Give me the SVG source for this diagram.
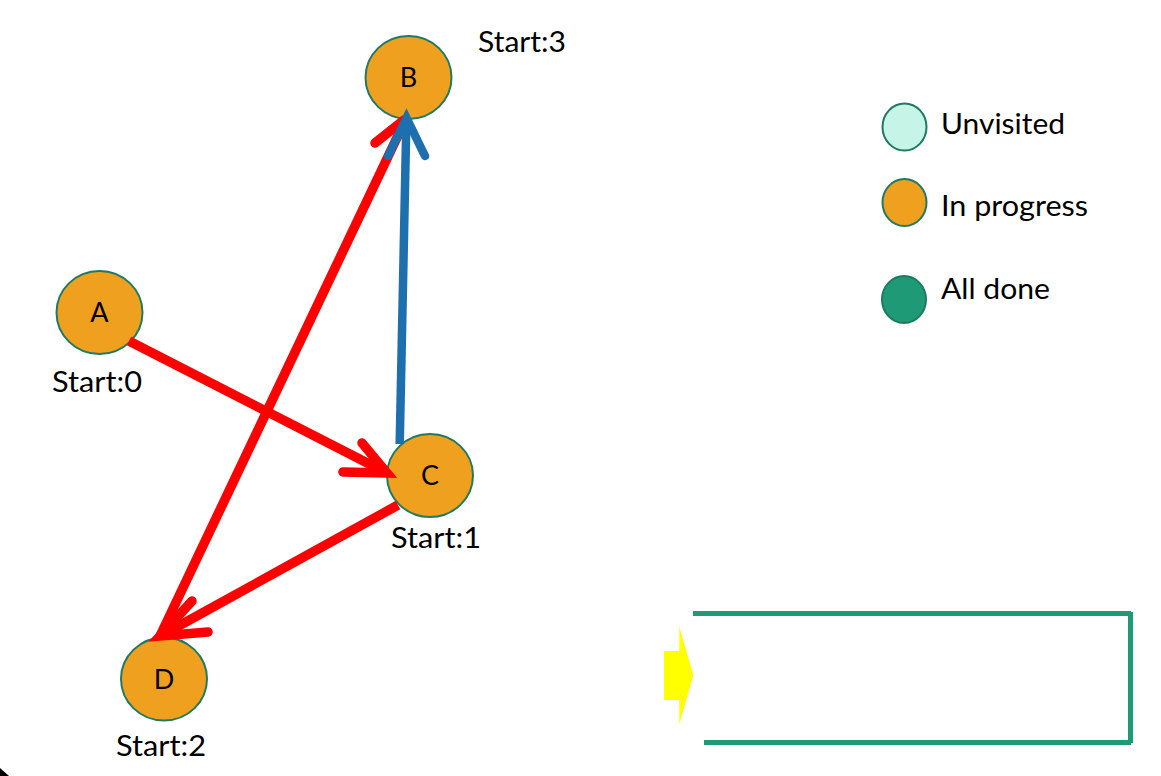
<svg xmlns="http://www.w3.org/2000/svg" width="1161" height="776" viewBox="0 0 1161 776">
  <style>
    .node { fill: #f0a01f; stroke: #1e7a63; stroke-width: 2; }
    .unvisited { fill: #c6f4e6; stroke: #1e7a63; stroke-width: 2; }
    .done { fill: #1e9a77; stroke: #1e7a63; stroke-width: 2; }
    .label { font-family: "Lato", "Liberation Sans", sans-serif; font-size: 27px; fill: #000; text-anchor: middle; }
    .note { font-family: "Lato", "Liberation Sans", sans-serif; font-size: 29px; fill: #000; }
    .edge-red { fill: none; stroke: #ff0000; stroke-width: 9.5; }
    .edge-blue { fill: none; stroke: #1e6fad; stroke-width: 8.5; }
    .shaft { stroke-linecap: butt; }
    .head { stroke-linecap: round; stroke-linejoin: miter; stroke-miterlimit: 10; }
    .frame { fill: none; stroke: #1e9a77; stroke-width: 5; }
  </style>

  <rect x="0" y="0" width="1161" height="776" fill="#ffffff"/>
  <!-- corner mark -->
  <polygon points="0,768 9,776 0,776" fill="#000000"/>

  <!-- graph nodes -->
  <g id="node-A">
    <ellipse class="node" cx="99.5" cy="312.5" rx="43" ry="41.5"/>
    <text class="label" x="99.5" y="322">A</text>
    <text class="note" x="52" y="392" textLength="90" lengthAdjust="spacingAndGlyphs">Start:0</text>
  </g>
  <g id="node-B">
    <ellipse class="node" cx="408.5" cy="77.5" rx="43" ry="41.5"/>
    <text class="label" x="408.5" y="87">B</text>
    <text class="note" x="478" y="52" textLength="88" lengthAdjust="spacingAndGlyphs">Start:3</text>
  </g>
  <g id="node-C">
    <ellipse class="node" cx="430" cy="475.5" rx="43" ry="41.5"/>
    <text class="label" x="430" y="485">C</text>
    <text class="note" x="391" y="548" textLength="90" lengthAdjust="spacingAndGlyphs">Start:1</text>
  </g>
  <g id="node-D">
    <ellipse class="node" cx="164" cy="679" rx="43" ry="41.5"/>
    <text class="label" x="164" y="689">D</text>
    <text class="note" x="116" y="756" textLength="90" lengthAdjust="spacingAndGlyphs">Start:2</text>
  </g>

  <!-- connectors -->
  <g id="connectors">
    <!-- A -> C -->
    <g id="edge-A-C" class="edge-red">
      <path class="shaft" d="M129,341 L382,470.5"/>
      <path class="head" d="M343,472 L387,473 L362,443"/>
    </g>
    <!-- C -> D -->
    <g id="edge-C-D" class="edge-red">
      <path class="shaft" d="M398,505 L165,633.5"/>
      <path class="head" d="M208,632 L160,636 L192,601"/>
    </g>
    <!-- D -> B (right barb lies under the blue edge) -->
    <g id="edge-D-B" class="edge-red">
      <path class="shaft" d="M160,636 L403,125"/>
      <path class="head" d="M375,143 L404,120"/>
    </g>
    <!-- C -> B -->
    <g id="edge-C-B" class="edge-blue">
      <path class="shaft" d="M399.7,444 L406.3,124"/>
      <path class="head" d="M388,156 L406.5,118 L425,156"/>
    </g>
  </g>

  <!-- legend -->
  <g id="legend-unvisited">
    <ellipse class="unvisited" cx="904.5" cy="127" rx="22" ry="23.5"/>
    <text class="note" x="941" y="134" textLength="124" lengthAdjust="spacingAndGlyphs">Unvisited</text>
  </g>
  <g id="legend-in-progress">
    <ellipse class="node" cx="904.5" cy="202.5" rx="22" ry="23.5"/>
    <text class="note" x="941" y="216" textLength="147" lengthAdjust="spacingAndGlyphs">In progress</text>
  </g>
  <g id="legend-all-done">
    <ellipse class="done" cx="904" cy="299.5" rx="22" ry="23.5"/>
    <text class="note" x="941" y="299" textLength="109" lengthAdjust="spacingAndGlyphs">All done</text>
  </g>

  <!-- pointer and open frame -->
  <g id="pointer">
    <polygon points="664,651 679.3,651 679.3,626.7 693.3,675.3 679.3,724.3 679.3,700 664,700" fill="#ffff00"/>
  </g>
  <g id="frame">
    <path class="frame" d="M693,613.5 H1131 M1130.5,612 V743 M704,742.5 H1131"/>
  </g>
</svg>
